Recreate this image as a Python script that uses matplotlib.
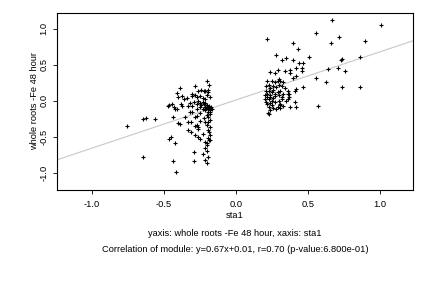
import numpy as np
import matplotlib
matplotlib.use("Agg")
import matplotlib.pyplot as plt

plt.rcParams["font.family"] = ["Liberation Sans", "DejaVu Sans"]
plt.rcParams["axes.unicode_minus"] = False

# ----------------------------------------------------------
# Data
# ----------------------------------------------------------

sta1_left = [
    -0.755, -0.64, -0.625, -0.56, -0.64, -0.46, -0.45, -0.42, -0.435, -0.415,
    -0.29, -0.29, -0.23, -0.215,
    -0.20, -0.185, -0.39, -0.285, -0.26, -0.24, -0.22, -0.21, -0.195, -0.19,
    -0.41, -0.30, -0.375, -0.40, -0.34, -0.36, -0.30, -0.28, -0.27, -0.25,
    -0.23, -0.21, -0.18, -0.20, -0.46, -0.44, -0.43, -0.47, -0.42, -0.41,
    -0.38, -0.37, -0.33, -0.32, -0.30, -0.29, -0.27, -0.26, -0.25, -0.24,
    -0.23, -0.22, -0.215, -0.21, -0.205, -0.20, -0.195, -0.19, -0.185, -0.18,
    -0.175, -0.17, -0.165, -0.19, -0.21, -0.23, -0.25, -0.27,
    -0.435, -0.35, -0.40, -0.33, -0.285, -0.27, -0.25, -0.30, -0.32, -0.26,
    -0.27, -0.31, -0.39, -0.31, -0.245, -0.285, -0.26, -0.33, -0.285, -0.25,
    -0.26, -0.20, -0.21, -0.185, -0.18, -0.185, -0.18, -0.19, -0.19, -0.18,
    -0.20, -0.19, -0.18, -0.19, -0.175, -0.18, -0.20, -0.22, -0.21, -0.20,
    -0.225, -0.20, -0.19, -0.20, -0.21,
]
roots_left = [
    -0.35, -0.26, -0.24, -0.26, -0.78, -0.53, -0.51, -0.59, -0.83, -0.99,
    -0.71, -0.83, -0.74, -0.66,
    0.27, 0.22, 0.18, 0.20, 0.14, 0.15, 0.14, 0.13, 0.15, 0.12,
    0.11, 0.09, 0.06, 0.05, 0.04, 0.03, 0.07, 0.08, 0.05, 0.06,
    0.04, 0.02, 0.05, 0.08, -0.06, -0.05, -0.08, -0.07, -0.12, -0.11,
    -0.04, -0.07, -0.07, -0.03, -0.07, -0.02, -0.04, 0.00, -0.03, -0.06,
    -0.02, -0.05, -0.08, -0.03, -0.10, -0.06, -0.09, -0.12, -0.07, -0.10,
    -0.13, -0.08, -0.11, -0.15, -0.13, -0.11, -0.09, -0.12,
    -0.22, -0.22, -0.31, -0.29, -0.22, -0.21, -0.17, -0.16, -0.15, -0.36,
    -0.34, -0.43, -0.32, -0.29, -0.28, -0.35, -0.39, -0.41, -0.48, -0.53,
    -0.51, -0.58, -0.57, -0.54, -0.47, -0.43, -0.36, -0.40, -0.52, -0.55,
    -0.62, -0.30, -0.27, -0.22, -0.19, -0.16, -0.20, -0.24, -0.30, -0.34,
    -0.46, -0.70, -0.78, -0.87, -0.82,
]

sta1_right = [
    0.67, 1.01, 0.56, 0.72, 0.22, 0.90, 0.66, 0.40, 0.43, 0.28,
    0.35, 0.51, 0.32, 0.40, 0.44, 0.47, 0.73, 0.74, 0.86, 0.29,
    0.34, 0.375, 0.42, 0.46, 0.46, 0.24, 0.27, 0.375, 0.64, 0.71,
    0.76, 0.42, 0.40, 0.56, 0.625, 0.74, 0.86, 0.47, 0.57, 0.42,
    0.22, 0.25, 0.27, 0.29, 0.31, 0.33, 0.30,
    0.21, 0.23, 0.24, 0.26, 0.28, 0.30, 0.32, 0.34,
    0.21, 0.22, 0.23, 0.24, 0.25, 0.26, 0.27, 0.22, 0.23, 0.24, 0.25, 0.26, 0.27,
    0.21, 0.22, 0.23, 0.24, 0.25, 0.26, 0.27,
    0.29, 0.30, 0.31, 0.32, 0.33, 0.30, 0.31, 0.32, 0.33, 0.29,
    0.36, 0.36, 0.35, 0.36, 0.41, 0.38, 0.37, 0.37, 0.41, 0.42,
    0.225, 0.23, 0.24, 0.31, 0.31, 0.28, 0.20, 0.20,
]
roots_right = [
    1.125, 1.05, 0.94, 0.89, 0.86, 0.83, 0.80, 0.80, 0.72, 0.63,
    0.59, 0.61, 0.56, 0.56, 0.52, 0.53, 0.57, 0.58, 0.61, 0.43,
    0.41, 0.43, 0.45, 0.45, 0.41, 0.40, 0.39, 0.39, 0.44, 0.46,
    0.42, 0.34, 0.32, 0.31, 0.26, 0.19, 0.19, 0.19, -0.07, -0.09,
    0.27, 0.28, 0.26, 0.27, 0.28, 0.26, 0.30,
    0.20, 0.22, 0.18, 0.21, 0.19, 0.22, 0.20, 0.18,
    0.14, 0.10, 0.13, 0.08, 0.12, 0.15, 0.10, 0.05, 0.02, 0.05, 0.00, 0.04, 0.07,
    -0.02, -0.05, -0.08, -0.03, -0.06, -0.10, -0.02,
    0.12, 0.08, 0.14, 0.05, 0.10, 0.00, -0.04, 0.02, -0.07, -0.08,
    0.10, 0.13, 0.00, 0.03, -0.01, -0.08, 0.05, 0.10, 0.14, 0.16,
    -0.17, -0.19, -0.13, -0.06, -0.10, -0.12, 0.08, 0.02,
]

slope = 0.67
intercept = 0.01

xticks = [-1.0, -0.5, 0.0, 0.5, 1.0]
yticks = [-1.0, -0.5, 0.0, 0.5, 1.0]
xlim = (-1.24, 1.23)
ylim = (-1.24, 1.22)

ylabel = "whole roots -Fe 48 hour"
xlabel = "sta1"
caption1 = "yaxis: whole roots -Fe 48 hour, xaxis: sta1"
caption2 = "Correlation of module: y=0.67x+0.01, r=0.70 (p-value:6.800e-01)"

FS = 6.7

# ----------------------------------------------------------
# Plot
# ----------------------------------------------------------

fig = plt.figure(figsize=(4.32, 2.88), dpi=100)
ax = fig.add_axes([57 / 432, 1 - 190 / 288, 356 / 432, 177 / 288])

xs = np.array(xlim)
ax.plot(xs, slope * xs + intercept, color="#c8c8c8", linewidth=0.8, zorder=1)

ax.scatter(sta1_left + sta1_right, roots_left + roots_right,
           marker="+", s=10, color="black", linewidths=0.8, zorder=2)

ax.set_xlim(*xlim)
ax.set_ylim(*ylim)

ax.set_xticks(xticks)
ax.set_xticklabels([f"{v:.1f}" for v in xticks])
ax.set_yticks(yticks)
ax.set_yticklabels([f"{v:.1f}" for v in yticks], rotation=90, va="center")

ax.tick_params(axis="both", labelsize=FS, length=3, width=0.6,
               direction="out", top=False, right=False)
ax.tick_params(axis="x", pad=4)
ax.tick_params(axis="y", pad=3)

for sp in ax.spines.values():
    sp.set_linewidth(0.8)
    sp.set_color("black")

fig.text(35 / 432, 1 - 101.5 / 288, ylabel, rotation=90,
         ha="center", va="center", fontsize=FS)
fig.text(235 / 432, 1 - 216 / 288, xlabel, ha="center", va="center", fontsize=FS)
fig.text(235 / 432, 1 - 233 / 288, caption1, ha="center", va="center", fontsize=FS)
fig.text(235 / 432, 1 - 250 / 288, caption2, ha="center", va="center", fontsize=FS)

fig.savefig("out.png", dpi=100)
plt.close(fig)
